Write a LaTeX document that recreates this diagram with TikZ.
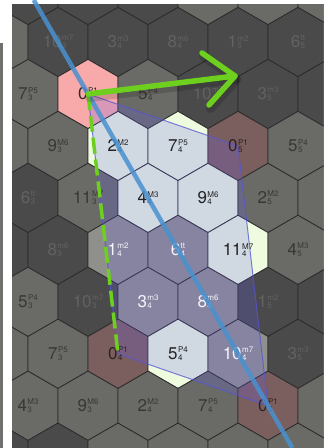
\documentclass[tikz,border=0pt]{standalone}
\usepackage{fontspec}
\setmainfont{TeX Gyre Heros}
\usetikzlibrary{calc}

\definecolor{midgray}{RGB}{106,107,102}
\definecolor{darkgraytwo}{RGB}{74,74,74}
\definecolor{pinkhex}{RGB}{248,170,170}
\definecolor{brownhex}{RGB}{123,94,94}
\definecolor{lighthex}{RGB}{238,251,223}
\definecolor{lavhex}{RGB}{143,143,139}
\definecolor{txtmid}{RGB}{56,56,53}
\definecolor{txtdark}{RGB}{98,98,98}
\definecolor{txtpink}{RGB}{50,38,38}
\definecolor{txtbrown}{RGB}{45,35,35}
\definecolor{txtlight}{RGB}{35,35,38}
\definecolor{txtlav}{RGB}{245,245,252}
\definecolor{overlaycol}{RGB}{105,95,240}
\definecolor{edgeblue}{RGB}{85,85,215}
\definecolor{lineblue}{RGB}{72,145,208}
\definecolor{arrowgreen}{RGB}{110,208,30}
\definecolor{hexline}{RGB}{45,45,45}
\definecolor{stripgray}{RGB}{112,112,110}

\newif\ifhxvis
\newif\ifhxlab
\newcommand\ivname[1]{\ifcase#1 P1\or m2\or M2\or m3\or M3\or P4\or tt\or P5\or m6\or M6\or m7\or M7\fi}
\newcommand\ismaj[1]{\ifcase#1 1\or 0\or 1\or 0\or 1\or 1\or 0\or 1\or 0\or 1\or 0\or 1\fi}
\newcommand\hexlabel[3]{{\fontsize{17}{17}\selectfont #1}\kern0.4pt\rlap{\fontsize{8}{8}\selectfont\raisebox{-1pt}{#3}}{\fontsize{8}{8}\selectfont\raisebox{6.6pt}{#2}}}

\newcommand\cellsetup[2]{%
  \pgfmathsetmacro\hxcx{88+60*#1+30*#2}%
  \pgfmathsetmacro\hxcy{94+51.96*#2}%
  \pgfmathtruncatemacro\hxp{48+5*#1+2*#2}%
  \pgfmathtruncatemacro\hxpc{mod(\hxp,12)}%
  \pgfmathtruncatemacro\hxoc{floor(\hxp/12)}%
  \pgfmathtruncatemacro\hxt{2*#2-#1}%
  \pgfmathtruncatemacro\hxii{#1+6}%
  \pgfmathtruncatemacro\hxjj{#2+2}%
  \def\hxsel{0}%
  \ifnum\hxoc=4 \ifnum\hxt>-1 \ifnum\hxt<12 \def\hxsel{1}\fi\fi\fi
  \edef\hxmaj{\ismaj{\hxpc}}%
  \ifnum\hxpc=0
    \ifnum\hxsel=1 \def\hxfill{pinkhex}\def\hxtext{txtpink}\else\def\hxfill{brownhex}\def\hxtext{txtbrown}\fi
  \else
    \ifnum\hxmaj=1
      \ifnum\hxsel=1 \def\hxfill{lighthex}\def\hxtext{txtlight}\else\def\hxfill{midgray}\def\hxtext{txtmid}\fi
    \else
      \ifnum\hxsel=1 \def\hxfill{lavhex}\def\hxtext{txtlav}\else\def\hxfill{darkgraytwo}\def\hxtext{txtdark}\fi
    \fi
  \fi
  \ifdim\hxcx pt<-32pt \hxvisfalse\else\ifdim\hxcx pt>356pt \hxvisfalse\else\hxvistrue\fi\fi
  \hxlabfalse
  \ifdim\hxcx pt>20pt \ifdim\hxcx pt<316pt \ifdim\hxcy pt>10pt \ifdim\hxcy pt<440pt \hxlabtrue\fi\fi\fi\fi
}

\tikzset{
  hexcell/.style={draw=hexline, line width=0.8pt, line join=round},
  hexlbl/.style={inner sep=0pt, outer sep=0pt, anchor=center},
  overlaypoly/.style={fill=overlaycol, fill opacity=0.22, draw=edgeblue, draw opacity=0.75, line width=1pt, line join=round},
  blueline/.style={draw=lineblue, line width=4.5pt, draw opacity=0.85},
  greenline/.style={draw=arrowgreen, line width=5.5pt, line cap=round, line join=round},
  greenshadow/.style={draw=black, line width=9pt, line cap=round, line join=round, draw opacity=0.15},
  greendash/.style={draw=arrowgreen, line width=3.5pt, dash pattern=on 16pt off 6pt},
}

\begin{document}
\begin{tikzpicture}[x=1pt,y=-1pt]
\useasboundingbox (0,0) rectangle (334,448);
\fill[white] (0,0) rectangle (334,448);
\fill[stripgray] (0,43) rectangle (3,448);
\begin{scope}
\clip (12,4) rectangle (323.5,448);
\fill[darkgraytwo] (12,4) rectangle (323.5,448);
\foreach \j in {-2,...,7}{\foreach \i in {-6,...,5}{%
  \cellsetup{\i}{\j}%
  \ifhxvis
  \coordinate (c\hxii-\hxjj) at (\hxcx,\hxcy);
  \path[hexcell, fill=\hxfill] (\hxcx+30,\hxcy-17.32) -- (\hxcx,\hxcy-34.64) -- (\hxcx-30,\hxcy-17.32) -- (\hxcx-30,\hxcy+17.32) -- (\hxcx,\hxcy+34.64) -- (\hxcx+30,\hxcy+17.32) -- cycle;
  \fi
}}
\path[overlaypoly] (c6-2) -- (c8-3) -- (c6-8) -- (c4-7) -- cycle;
\end{scope}
\foreach \j in {-2,...,7}{\foreach \i in {-6,...,5}{%
  \cellsetup{\i}{\j}%
  \ifhxlab
  \node[hexlbl, text=\hxtext] (l\hxii-\hxjj) at (c\hxii-\hxjj) {\hexlabel{\hxpc}{\ivname{\hxpc}}{\hxoc}};
  \fi
}}
\draw[blueline] ($(c6-2)!-0.3015!(c6-8)$) -- ($(c6-2)!1.1355!(c6-8)$);
\draw[greendash] (c6-2) -- (c4-7);
\coordinate (tip) at (235,76);
\draw[greenshadow] ($(c6-2)+(1.5,3.5)$) -- ($(tip)+(1.5,3.5)$);
\draw[greenshadow] ($(tip)+(-31.5,-19.5)$) -- ($(tip)+(1.5,3.5)$) -- ($(tip)+(-24.5,32.5)$);
\draw[greenline] (c6-2) -- (tip);
\draw[greenline] ($(tip)+(-33,-23)$) -- (tip) -- ($(tip)+(-26,29)$);
\end{tikzpicture}
\end{document}
